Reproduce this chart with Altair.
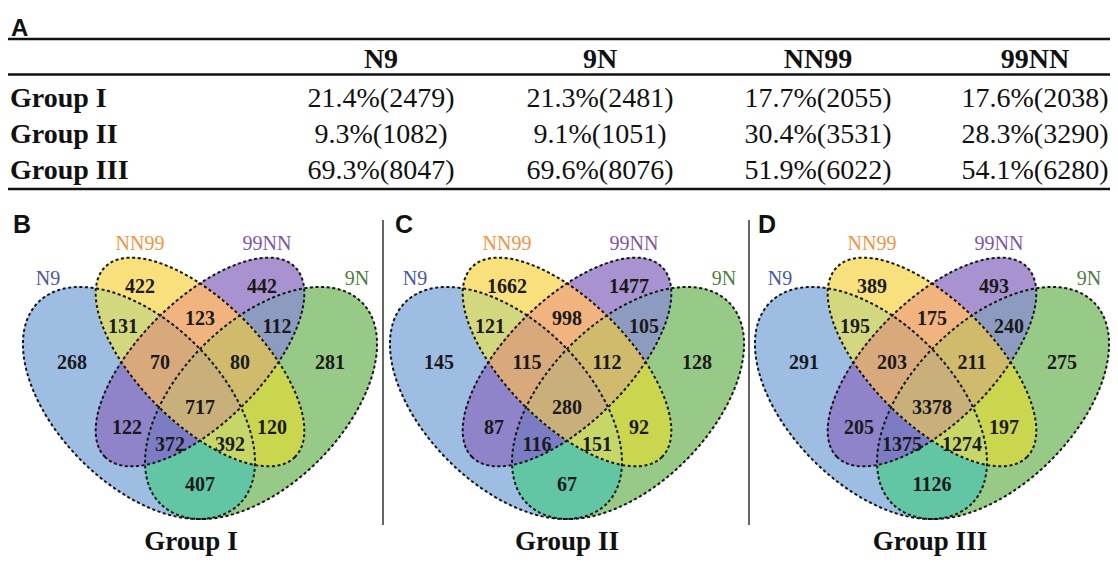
import altair as alt
import numpy as np
import pandas as pd

# ---------------- data ----------------
table_columns = ["N9", "9N", "NN99", "99NN"]
groups = ["Group I", "Group II", "Group III"]
pct_values = [[21.4, 21.3, 17.7, 17.6],
              [9.3, 9.1, 30.4, 28.3],
              [69.3, 69.6, 51.9, 54.1]]
count_values = [[2479, 2481, 2055, 2038],
                [1082, 1051, 3531, 3290],
                [8047, 8076, 6022, 6280]]

set_names = ["N9", "NN99", "99NN", "9N"]
region_keys = ["N9", "NN99", "99NN", "9N",
               "N9&NN99", "NN99&99NN", "99NN&9N",
               "N9&NN99&99NN", "NN99&99NN&9N", "N9&NN99&99NN&9N",
               "N9&99NN", "NN99&9N", "N9&99NN&9N", "N9&NN99&9N", "N9&9N"]
venn_group_I = [268, 422, 442, 281, 131, 123, 112, 70, 80, 717, 122, 120, 372, 392, 407]
venn_group_II = [145, 1662, 1477, 128, 121, 998, 105, 115, 112, 280, 87, 92, 116, 151, 67]
venn_group_III = [291, 389, 493, 275, 195, 175, 240, 203, 211, 3378, 205, 197, 1375, 1274, 1126]
venn_values = [venn_group_I, venn_group_II, venn_group_III]
panel_letters = ["B", "C", "D"]

# ---------------- layout (page pixels) ----------------
W, H = 1102, 549
X0, Y0 = 8, 8
col_x = {"N9": 381, "9N": 600, "NN99": 818, "99NN": 1035}
header_y = 68
row_y = [106.5, 142.5, 178.5]
rule_y = [39, 74.5, 189]
panel_cx = [200, 567, 932]
title_cx = [191, 567, 930]
letter_x = [13, 395, 758]
sep_x = [383, 749]

U = 407  # px per venn unit
ellipse_layout = {  # dx, cy, angle, semi-major (unit), semi-minor (unit)
    "N9": (-0.15 * U, 403, 45, 0.35, 0.20),
    "9N": (0.15 * U, 403, 135, 0.35, 0.20),
    "99NN": (0, 362, 135, 0.33, 0.15),
    "NN99": (0, 362, 45, 0.33, 0.15),
}
set_label_pos = {"N9": (-152, 279), "NN99": (-60, 244), "99NN": (67, 244), "9N": (157, 279)}
region_pos = {
    "N9": (-128, 363), "NN99": (-60, 287), "99NN": (62, 287), "9N": (130, 363),
    "N9&NN99": (-77, 327), "NN99&99NN": (0, 319), "99NN&9N": (77, 327),
    "N9&NN99&99NN": (-40, 363), "NN99&99NN&9N": (40, 363), "N9&NN99&99NN&9N": (0, 408),
    "N9&99NN": (-73, 428), "NN99&9N": (72, 428),
    "N9&99NN&9N": (-30, 445), "N9&NN99&9N": (30, 445), "N9&9N": (0, 485),
}
region_colors = {
    "N9": "#9dbde3", "NN99": "#f8e07c", "99NN": "#a892cf", "9N": "#97c987",
    "N9&NN99": "#d3d87e", "NN99&99NN": "#f2b47e", "99NN&9N": "#8c9bbf",
    "N9&NN99&99NN": "#d8a97b", "NN99&99NN&9N": "#d0bb6c", "N9&NN99&99NN&9N": "#c9b07a",
    "N9&99NN": "#8f84c9", "NN99&9N": "#c9d64e", "N9&99NN&9N": "#7c7cc4",
    "N9&NN99&9N": "#c6d768", "N9&9N": "#62c6a4",
}
label_colors = {"N9": "#4a56a6", "NN99": "#f5933f", "99NN": "#7d55ad", "9N": "#4d7d40"}

SERIF = "Liberation Serif"
SANS = "Liberation Sans"

xs = alt.Scale(domain=[X0, X0 + W], nice=False, zero=False)
ys = alt.Scale(domain=[Y0, Y0 + H], nice=False, zero=False, reverse=True)


def X(field="x"):
    return alt.X(f"{field}:Q", scale=xs, axis=None)


def Y(field="y"):
    return alt.Y(f"{field}:Q", scale=ys, axis=None)


# ---------------- venn geometry helpers ----------------
def ellipse_outline(s, n=240):
    dx, cy, ang, a, b = ellipse_layout[s]
    t = np.linspace(0, 2 * np.pi, n, endpoint=False)
    th = np.radians(ang)
    A, B = a * U, b * U
    px = dx + A * np.cos(t) * np.cos(th) - B * np.sin(t) * np.sin(th)
    py = cy + A * np.cos(t) * np.sin(th) + B * np.sin(t) * np.cos(th)
    return list(zip(px, py))


def clip_convex(subject, clipper):
    def cross(o, p, q):
        return (p[0] - o[0]) * (q[1] - o[1]) - (p[1] - o[1]) * (q[0] - o[0])
    area = sum(clipper[i][0] * clipper[(i + 1) % len(clipper)][1]
               - clipper[(i + 1) % len(clipper)][0] * clipper[i][1]
               for i in range(len(clipper)))
    sign = 1 if area > 0 else -1
    out = subject
    for i in range(len(clipper)):
        a, b = clipper[i], clipper[(i + 1) % len(clipper)]
        inp, out = out, []
        if not inp:
            break

        def inside(p):
            return sign * cross(a, b, p) >= 0

        def inter(p, q):
            d1 = cross(a, b, p)
            d2 = cross(a, b, q)
            tt = d1 / (d1 - d2)
            return (p[0] + tt * (q[0] - p[0]), p[1] + tt * (q[1] - p[1]))
        prev = inp[-1]
        for cur in inp:
            if inside(cur):
                if not inside(prev):
                    out.append(inter(prev, cur))
                out.append(cur)
            elif inside(prev):
                out.append(inter(prev, cur))
            prev = cur
    return out


outlines = {s: ellipse_outline(s) for s in set_names}
region_polys = {}
for key in region_keys:
    members = key.split("&")
    poly = outlines[members[0]]
    for m in members[1:]:
        poly = clip_convex(poly, outlines[m])
    region_polys[key] = poly

layers = []

# ---------------- table ----------------
rules = pd.DataFrame({"y": rule_y, "x": [X0] * 3, "x2": [X0 + W] * 3})
layers.append(alt.Chart(rules).mark_rule(color="#111", strokeWidth=2.6).encode(
    x=X(), x2="x2:Q", y=Y()))

layers.append(alt.Chart(pd.DataFrame({"t": ["A"], "x": [11], "y": [36]})).mark_text(
    font=SANS, fontSize=24, fontWeight="bold", align="left", baseline="alphabetic",
    color="#111").encode(x=X(), y=Y(), text="t:N"))

hdr = pd.DataFrame({"t": table_columns, "x": [col_x[c] for c in table_columns],
                    "y": [header_y] * 4})
layers.append(alt.Chart(hdr).mark_text(
    font=SERIF, fontSize=28, fontWeight="bold", align="center", baseline="alphabetic",
    color="#111").encode(x=X(), y=Y(), text="t:N"))

rowlab = pd.DataFrame({"t": groups, "x": [10] * 3, "y": row_y})
layers.append(alt.Chart(rowlab).mark_text(
    font=SERIF, fontSize=28, fontWeight="bold", align="left", baseline="alphabetic",
    color="#111").encode(x=X(), y=Y(), text="t:N"))

cells = []
for gi, g in enumerate(groups):
    for ci, c in enumerate(table_columns):
        cells.append({"t": f"{pct_values[gi][ci]}%({count_values[gi][ci]})",
                      "x": col_x[c], "y": row_y[gi]})
layers.append(alt.Chart(pd.DataFrame(cells)).mark_text(
    font=SERIF, fontSize=28, align="center", baseline="alphabetic",
    color="#111").encode(x=X(), y=Y(), text="t:N"))

# ---------------- venn panels ----------------
seps = pd.DataFrame({"x": sep_x, "y": [220] * 2, "y2": [525] * 2})
layers.append(alt.Chart(seps).mark_rule(color="#333", strokeWidth=1.5).encode(
    x=X(), y=Y(), y2="y2:Q"))

letters = pd.DataFrame({"t": panel_letters, "x": letter_x, "y": [233] * 3})
layers.append(alt.Chart(letters).mark_text(
    font=SANS, fontSize=25, fontWeight="bold", align="left", baseline="alphabetic",
    color="#111").encode(x=X(), y=Y(), text="t:N"))

# region fills: painter's order by number of sets (higher order drawn later)
for level in [1, 2, 3, 4]:
    rows = []
    for gi in range(3):
        for key in region_keys:
            if len(key.split("&")) != level:
                continue
            for i, (px, py) in enumerate(region_polys[key]):
                rows.append({"rid": f"{gi}-{key}", "i": i, "x": panel_cx[gi] + px,
                             "y": py, "col": region_colors[key]})
    layers.append(alt.Chart(pd.DataFrame(rows)).mark_line(
        interpolate="linear-closed", strokeWidth=0.8, opacity=1).encode(
        x=X(), y=Y(), order=alt.Order("i:Q"), detail="rid:N",
        fill=alt.Fill("col:N", scale=None), stroke=alt.Stroke("col:N", scale=None)))

# dashed outlines
out_rows = []
for gi in range(3):
    for s in set_names:
        for i, (px, py) in enumerate(outlines[s]):
            out_rows.append({"rid": f"{gi}-{s}", "i": i, "x": panel_cx[gi] + px, "y": py})
layers.append(alt.Chart(pd.DataFrame(out_rows)).mark_line(
    interpolate="linear-closed", color="#151515", strokeWidth=2,
    strokeDash=[3, 2.6], opacity=1).encode(
    x=X(), y=Y(), order=alt.Order("i:Q"), detail="rid:N"))

set_rows = []
for gi in range(3):
    for s in set_names:
        dx, yy = set_label_pos[s]
        set_rows.append({"t": s, "x": panel_cx[gi] + dx, "y": yy})
layers.append(alt.Chart(pd.DataFrame(set_rows)).mark_text(
    font=SERIF, fontSize=20, align="center", baseline="middle").encode(
    x=X(), y=Y(), text="t:N",
    color=alt.Color("t:N", scale=alt.Scale(domain=set_names,
                                           range=[label_colors[s] for s in set_names]),
                    legend=None)))

num_rows = []
for gi in range(3):
    for k, v in zip(region_keys, venn_values[gi]):
        dx, yy = region_pos[k]
        num_rows.append({"t": str(v), "x": panel_cx[gi] + dx, "y": yy})
layers.append(alt.Chart(pd.DataFrame(num_rows)).mark_text(
    font=SERIF, fontSize=20, fontWeight="bold", align="center", baseline="middle",
    color="#1a1a1a").encode(x=X(), y=Y(), text="t:N"))

titles = pd.DataFrame({"t": groups, "x": title_cx, "y": [550] * 3})
layers.append(alt.Chart(titles).mark_text(
    font=SERIF, fontSize=27, fontWeight="bold", align="center", baseline="alphabetic",
    color="#111").encode(x=X(), y=Y(), text="t:N"))

chart = alt.layer(*layers).properties(
    width=W, height=H, padding=0, autosize=alt.AutoSizeParams(type="none")
).configure_view(stroke=None)

chart.save("out.html", embed_options={"renderer": "svg", "actions": False})
